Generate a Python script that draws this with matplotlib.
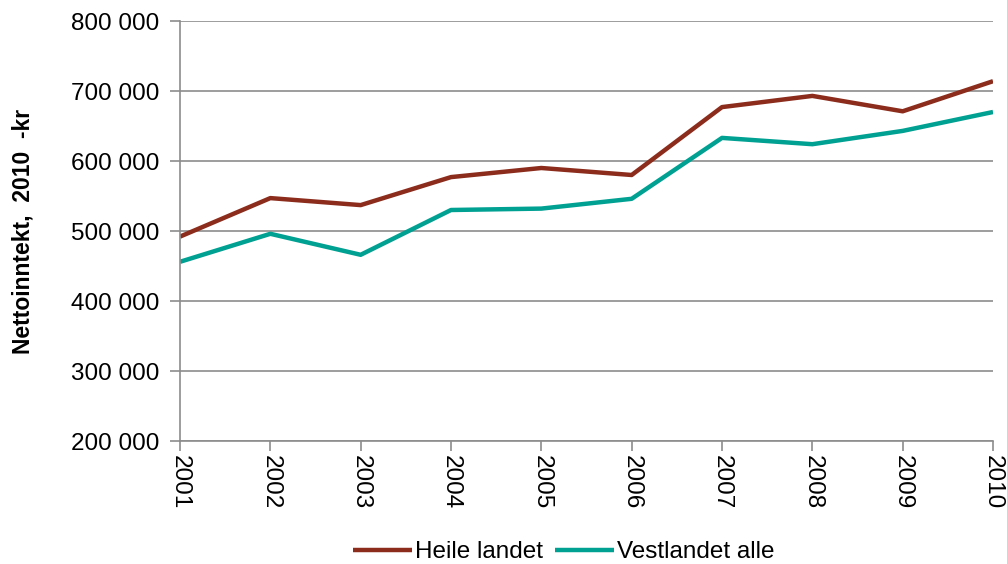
import matplotlib.pyplot as plt
from matplotlib.ticker import FuncFormatter

plt.rcParams['font.family'] = ['Liberation Sans', 'DejaVu Sans']

years = ['2001', '2002', '2003', '2004', '2005', '2006', '2007', '2008', '2009', '2010']
heile_landet = [492000, 547000, 537000, 577000, 590000, 580000, 677000, 693000, 671000, 714000]
vestlandet_alle = [456000, 496000, 466000, 530000, 532000, 546000, 633000, 624000, 643000, 670000]

fig = plt.figure(figsize=(10.07, 5.64), dpi=100)
ax = fig.add_axes([180 / 1007, 1 - 441 / 564, (993 - 180) / 1007, (441 - 21) / 564])

x = range(len(years))
ax.plot(x, heile_landet, color='#8B2C1C', lw=3.2, label='Heile landet', solid_capstyle='butt')
ax.plot(x, vestlandet_alle, color='#00A092', lw=3.2, label='Vestlandet alle', solid_capstyle='butt')

ax.set_xlim(0, len(years) - 1)
ax.set_ylim(200000, 800000)
ax.set_yticks(range(200000, 800001, 100000))
ax.yaxis.set_major_formatter(FuncFormatter(lambda v, p: f'{int(v):,}'.replace(',', ' ')))
ax.set_xticks(list(x))
ax.set_xticklabels(years, rotation=270)

ax.grid(axis='y', color='#8c8c8c', lw=1.2)
ax.set_axisbelow(True)
for s in ['top', 'right']:
    ax.spines[s].set_visible(False)
for s in ['left', 'bottom']:
    ax.spines[s].set_color('#8c8c8c')
    ax.spines[s].set_linewidth(1.2)
ax.tick_params(axis='both', color='#8c8c8c', width=1.2, length=7, labelsize=17.5, pad=3)
ax.tick_params(axis='y', pad=8)

ax.set_ylabel('Nettoinntekt,  2010  -kr', fontsize=16.5, fontweight='bold', labelpad=26)

fig.legend(loc='center', bbox_to_anchor=(564 / 1007, 1 - 552 / 564), ncol=2, frameon=False,
           fontsize=17.5, handlelength=2.4, handletextpad=0.15, columnspacing=0.5)

fig.savefig('out.png', dpi=100)
